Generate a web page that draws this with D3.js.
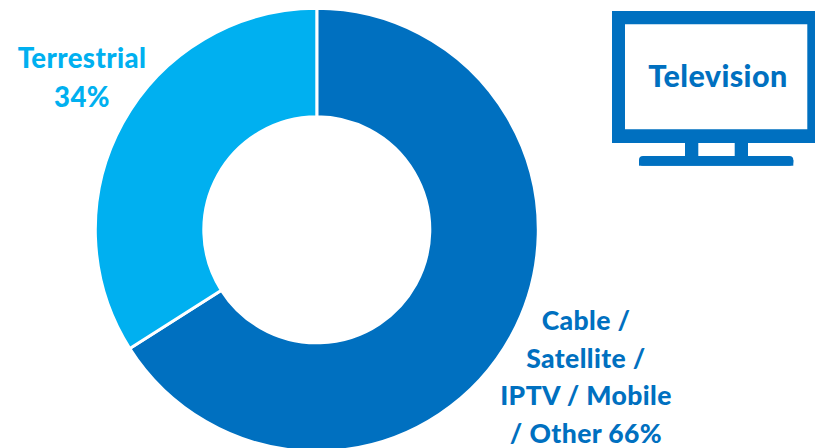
<!DOCTYPE html>
<html><head><meta charset="utf-8">
<script src="https://cdn.jsdelivr.net/npm/d3@7/dist/d3.min.js"></script>
<style>html,body{margin:0;background:#fff;overflow:hidden}svg{display:block}text{font-family:Lato,"Open Sans",sans-serif;font-weight:900;letter-spacing:.4px}</style>
</head><body><svg id="c" width="815" height="448"></svg>
<script>
const segmentNames = ["Cable / Satellite / IPTV / Mobile / Other", "Terrestrial"];
const segmentShares = [66, 34];
const segmentColors = ["#0070c0", "#00b0f0"];
const blueLabel = ["Cable /", "Satellite /", "IPTV / Mobile", "/ Other 66%"];
const skyLabel = ["Terrestrial", "34%"];

const svg = d3.select("#c");
const donut = svg.append("g").attr("transform", "translate(316.8,229.8)");
const pie = d3.pie().sort(null)(segmentShares);
const arc = d3.arc().innerRadius(113).outerRadius(221.5);
donut.selectAll("path").data(pie).join("path")
  .attr("d", arc).attr("fill", (d, i) => segmentColors[i])
  .attr("stroke", "#fff").attr("stroke-width", 3);

const lines = (arr, x, y, step, size, color) => svg.append("g").selectAll("text").data(arr).join("text")
  .attr("x", x).attr("y", (d, i) => y + i * step).attr("text-anchor", "middle")
  .attr("font-size", size).attr("fill", color).text(d => d);
lines(skyLabel, 82, 68, 38.5, 27.5, segmentColors[1]);
lines(blueLabel, 586, 330, 37.6, 26.5, segmentColors[0]);

// Television pictogram: screen frame, two legs and a stand with rounded top corners
const tv = svg.append("g").attr("fill", segmentColors[0]);
tv.append("path").attr("fill-rule", "evenodd")
  .attr("d", "M612 11H815V143H612Z M625 24.3V129.3H807.3V24.3Z");
tv.append("rect").attr("x", 685).attr("y", 143).attr("width", 13.3).attr("height", 14);
tv.append("rect").attr("x", 734.7).attr("y", 143).attr("width", 13.3).attr("height", 14);
tv.append("rect").attr("x", 639).attr("y", 156).attr("width", 154.3).attr("height", 9.7).attr("rx", 4);
tv.append("rect").attr("x", 639).attr("y", 160).attr("width", 154.3).attr("height", 5.7);
svg.append("text").attr("x", 718).attr("y", 86.5).attr("text-anchor", "middle")
  .attr("font-size", 30.5).attr("fill", segmentColors[0]).text("Television");
</script></body></html>
